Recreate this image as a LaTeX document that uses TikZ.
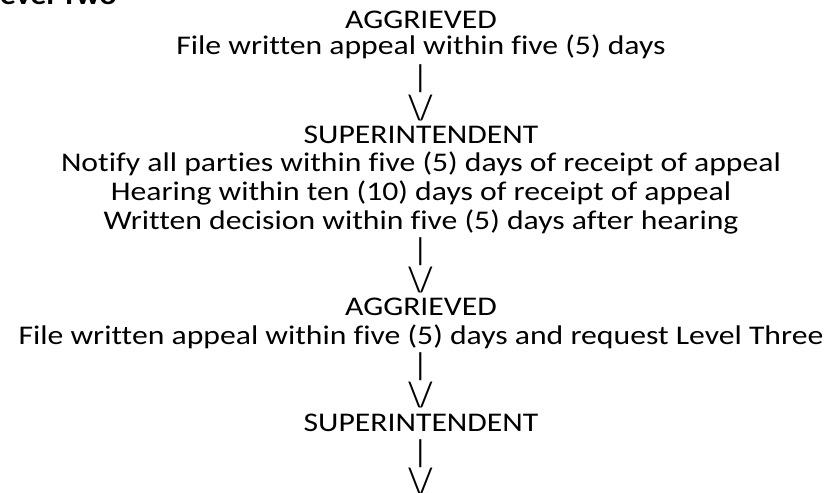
\documentclass[tikz,border=0pt]{standalone}
\usepackage{fontspec}
\setmainfont{Carlito}[Ligatures=CommonOff]
\usepackage{graphicx}
\newcommand{\sqz}[1]{\scalebox{1}[0.85]{#1}}
\newcommand{\barglyph}{\resizebox*{!}{28pt}{|}}
\newcommand{\vglyph}{\resizebox*{24pt}{26pt}{\textbackslash/}}
\tikzset{
  txt/.style={anchor=base, inner sep=0pt, outer sep=0pt, font=\fontsize{31.7}{38}\selectfont},
  arr/.style={anchor=north, inner sep=0pt, outer sep=0pt, font=\fontsize{31.7}{38}\selectfont},
  head/.style={anchor=base west, inner sep=0pt, outer sep=0pt, font=\fontsize{31.7}{38}\selectfont\bfseries}
}
\begin{document}
\begin{tikzpicture}[x=1pt,y=1pt]
\useasboundingbox (0,0) rectangle (831,-493);
\clip (0,0) rectangle (831,-493);
\node[head] (h0) at (-13.4,-4) {\sqz{Level Two}};
\node[txt] (l1) at (421,-28) {\sqz{AGGRIEVED}};
\node[txt] (l2) at (421,-54) {\sqz{File written appeal within five (5) days}};
\node[arr] (l3) at (420.5,-65) {\barglyph};
\node[arr] (l4) at (420.5,-95) {\vglyph};
\node[txt] (l5) at (421,-143) {\sqz{SUPERINTENDENT}};
\node[txt] (l6) at (421,-171.8) {\sqz{Notify all parties within five (5) days of receipt of appeal}};
\node[txt] (l7) at (421,-200.6) {\sqz{Hearing within ten (10) days of receipt of appeal}};
\node[txt] (l8) at (421,-229.4) {\sqz{Written decision within five (5) days after hearing}};
\node[arr] (l9) at (420.5,-238) {\barglyph};
\node[arr] (l10) at (420.5,-267) {\vglyph};
\node[txt] (l11) at (421,-315.8) {\sqz{AGGRIEVED}};
\node[txt] (l12) at (421,-344.5) {\sqz{File written appeal within five (5) days and request Level Three}};
\node[arr] (l13) at (420.5,-353) {\barglyph};
\node[arr] (l14) at (420.5,-382) {\vglyph};
\node[txt] (l15) at (421,-431) {\sqz{SUPERINTENDENT}};
\node[arr] (l16) at (420.5,-440) {\barglyph};
\node[arr] (l17) at (420.5,-468) {\vglyph};
\end{tikzpicture}
\end{document}
